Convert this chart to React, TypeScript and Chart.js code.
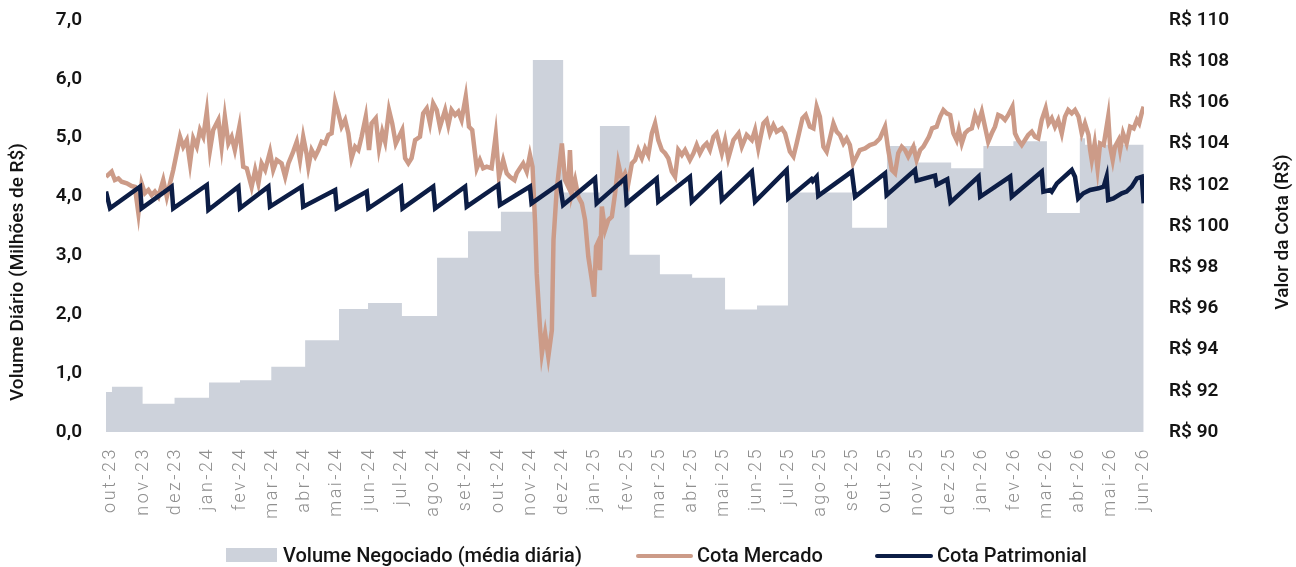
import React, { useEffect, useRef } from 'react';
import { Chart, registerables } from 'chart.js';

Chart.register(...registerables);

// ---------- DATA ----------
const monthLabels = [
  'out-23', 'nov-23', 'dez-23', 'jan-24', 'fev-24', 'mar-24', 'abr-24', 'mai-24', 'jun-24', 'jul-24', 'ago-24',
  'set-24', 'out-24', 'nov-24', 'dez-24', 'jan-25', 'fev-25', 'mar-25', 'abr-25', 'mai-25', 'jun-25', 'jul-25',
  'ago-25', 'set-25', 'out-25', 'nov-25', 'dez-25', 'jan-26', 'fev-26', 'mar-26', 'abr-26', 'mai-26', 'jun-26',
];

// time in months since out-23 (0 = out-23 label)
const volumeT = [
  -0.155, 0.03, 0.98, 1.97, 3.04, 4.0, 4.97, 6.02, 7.07, 7.97, 9.02, 10.11, 11.07, 12.09, 13.08, 14.02, 15.16,
  16.08, 17.02, 18.02, 19.04, 20.03, 20.99, 22.98, 24.06, 24.98, 26.05, 27.05, 27.98, 29.02, 30.04, 30.2, 32.02,
];
const volumeV = [
  0.68, 0.77, 0.48, 0.58, 0.84, 0.88, 1.11, 1.56, 2.09, 2.19, 1.97, 2.96, 3.41, 3.74, 6.32, 4.07, 5.2,
  3.01, 2.68, 2.62, 2.08, 2.15, 4.07, 3.47, 4.86, 4.58, 4.48, 4.86, 4.94, 3.72, 4.99, 4.88, 4.88,
];

const mercadoT = [
  -0.155, 0.02, 0.12, 0.23, 0.33, 0.49, 0.64, 0.74, 0.85, 0.95,
  1.05, 1.16, 1.26, 1.36, 1.47, 1.62, 1.73, 1.83, 1.93, 2.14,
  2.24, 2.35, 2.45, 2.55, 2.66, 2.76, 2.86, 2.97, 3.07, 3.17,
  3.33, 3.43, 3.53, 3.64, 3.74, 3.84, 3.98, 4.10, 4.21, 4.36,
  4.47, 4.57, 4.67, 4.78, 4.93, 5.03, 5.14, 5.29, 5.40, 5.50,
  5.65, 5.76, 5.86, 5.96, 6.07, 6.12, 6.22, 6.33, 6.43, 6.53,
  6.64, 6.74, 6.84, 6.95, 7.05, 7.15, 7.26, 7.36, 7.46, 7.57,
  7.67, 7.77, 7.90, 8.00, 8.08, 8.21, 8.31, 8.41, 8.50, 8.62,
  8.72, 8.83, 8.93, 9.03, 9.12, 9.22, 9.32, 9.43, 9.58, 9.68,
  9.79, 9.89, 9.99, 10.10, 10.20, 10.36, 10.46, 10.56, 10.67, 10.77,
  10.87, 11.00, 11.10, 11.20, 11.34, 11.44, 11.54, 11.65, 11.80, 11.93,
  12.03, 12.16, 12.27, 12.37, 12.51, 12.58, 12.68, 12.78, 12.89, 12.99,
  13.07, 13.15, 13.20, 13.30, 13.36, 13.46, 13.56, 13.67, 13.72, 13.82,
  13.98, 14.08, 14.18, 14.23, 14.29, 14.39, 14.49, 14.60, 14.70, 14.80,
  14.91, 14.98, 15.04, 15.11, 15.16, 15.22, 15.32, 15.42, 15.53, 15.63,
  15.73, 15.84, 15.94, 16.04, 16.15, 16.25, 16.35, 16.46, 16.56, 16.66,
  16.77, 16.87, 16.97, 17.08, 17.18, 17.28, 17.39, 17.49, 17.59, 17.70,
  17.80, 17.95, 18.06, 18.16, 18.26, 18.37, 18.47, 18.57, 18.68, 18.78,
  18.94, 19.04, 19.14, 19.30, 19.46, 19.56, 19.71, 19.87, 19.97, 20.07,
  20.23, 20.33, 20.43, 20.54, 20.64, 20.80, 20.90, 21.05, 21.16, 21.26,
  21.44, 21.54, 21.67, 21.78, 21.88, 21.98, 22.09, 22.19, 22.29, 22.40,
  22.50, 22.60, 22.71, 22.81, 22.91, 23.01, 23.12, 23.22, 23.38, 23.53,
  23.69, 23.84, 24.00, 24.10, 24.21, 24.31, 24.41, 24.52, 24.62, 24.72,
  24.88, 24.98, 25.09, 25.19, 25.36, 25.46, 25.60, 25.71, 25.81, 25.91,
  26.02, 26.12, 26.22, 26.29, 26.38, 26.48, 26.58, 26.69, 26.79, 26.89,
  27.00, 27.10, 27.20, 27.31, 27.41, 27.51, 27.62, 27.72, 27.82, 27.95,
  28.03, 28.13, 28.24, 28.34, 28.44, 28.55, 28.65, 28.75, 28.86, 28.98,
  29.07, 29.17, 29.27, 29.37, 29.48, 29.58, 29.68, 29.79, 29.89, 30.00,
  30.10, 30.20, 30.31, 30.36, 30.41, 30.50, 30.59, 30.67, 30.78, 30.92,
  30.98, 31.06, 31.13, 31.24, 31.29, 31.38, 31.49, 31.60, 31.71, 31.81,
  31.88, 31.97, 32.02,
];
const mercadoV = [
  102.39, 102.64, 102.23, 102.31, 102.15, 102.07, 101.94, 101.90, 100.62, 102.07,
  101.59, 101.75, 101.50, 101.67, 101.42, 102.23, 101.42, 102.07, 102.72, 104.33,
  103.85, 104.17, 103.04, 104.25, 103.85, 104.66, 104.33, 105.55, 103.69, 104.66,
  105.15, 103.85, 105.31, 104.01, 104.33, 103.69, 104.82, 102.88, 102.80, 101.90,
  102.72, 102.07, 103.04, 102.72, 103.61, 102.72, 103.20, 103.04, 102.39, 103.04,
  103.61, 104.09, 103.20, 104.33, 103.45, 102.88, 103.69, 103.37, 103.69, 104.09,
  104.01, 104.42, 104.50, 106.03, 105.47, 104.82, 105.15, 104.50, 103.29, 103.85,
  103.69, 104.33, 105.31, 103.69, 104.98, 105.23, 103.77, 104.58, 104.09, 105.63,
  104.98, 104.00, 104.33, 104.66, 103.29, 103.04, 103.29, 104.17, 104.33, 105.47,
  105.71, 104.98, 105.95, 105.63, 104.82, 105.63, 104.90, 105.63, 105.39, 105.55,
  105.15, 106.28, 104.82, 104.66, 102.80, 103.20, 102.80, 102.88, 102.80, 104.42,
  102.39, 103.20, 102.56, 102.39, 102.23, 102.56, 102.80, 103.04, 102.64, 103.45,
  102.88, 100.13, 97.70, 95.11, 93.82, 94.79, 93.66, 94.95, 99.32, 101.75,
  104.01, 102.23, 101.90, 103.69, 101.59, 102.23, 101.42, 101.10, 100.29, 98.51,
  97.38, 96.57, 99.00, 99.24, 97.86, 100.94, 99.81, 100.29, 100.45, 101.59,
  103.04, 102.23, 102.56, 102.07, 103.04, 103.20, 103.69, 103.29, 103.77, 103.45,
  104.50, 104.98, 104.17, 103.69, 103.53, 103.29, 102.64, 102.39, 103.69, 103.45,
  103.69, 103.20, 103.53, 103.93, 103.53, 103.85, 104.01, 103.69, 104.33, 104.50,
  103.53, 104.17, 103.29, 104.17, 104.50, 103.85, 104.42, 104.17, 104.66, 103.77,
  104.98, 105.15, 104.50, 104.90, 104.58, 104.74, 104.50, 103.61, 103.37, 104.01,
  105.23, 105.39, 104.82, 104.74, 105.79, 105.31, 103.85, 103.61, 104.25, 104.98,
  104.58, 104.42, 104.01, 104.25, 103.93, 103.04, 103.37, 103.69, 103.77, 103.93,
  104.01, 104.25, 104.82, 103.69, 102.72, 102.56, 103.53, 103.85, 103.69, 103.37,
  103.85, 103.20, 103.69, 103.85, 104.33, 104.74, 104.82, 105.31, 105.63, 105.47,
  105.39, 104.50, 104.17, 104.66, 104.01, 104.50, 104.66, 104.74, 105.39, 104.98,
  105.55, 104.82, 104.09, 104.50, 104.82, 105.39, 105.31, 105.15, 105.39, 105.79,
  104.50, 104.17, 103.93, 104.17, 104.42, 104.58, 104.33, 104.25, 105.15, 105.71,
  104.98, 105.23, 104.82, 105.15, 104.50, 105.31, 105.63, 105.47, 105.63, 105.31,
  104.50, 104.98, 104.42, 103.69, 103.20, 104.01, 102.80, 104.01, 103.93, 105.31,
  103.85, 103.20, 103.85, 104.17, 103.69, 104.50, 104.01, 104.82, 104.74, 105.15,
  104.98, 105.55, 105.79,
];

const patrimonialT = [
  -0.155, -0.03, 0.9, 0.95, 1.88, 1.93, 2.97, 3.02, 3.95, 4.0, 4.88, 4.93, 5.91, 5.96, 6.95, 7.0, 7.93, 7.98,
  8.99, 9.04, 9.99, 10.05, 10.98, 11.03, 12.01, 12.06, 12.99, 13.04, 13.92, 14.02, 15.01, 15.06, 15.94, 15.99,
  16.92, 16.97, 17.95, 18.01, 18.88, 18.94, 19.87, 19.97, 20.95, 21.0, 21.72, 21.76, 21.88, 21.93, 22.97, 23.07,
  24.0, 24.05, 24.93, 24.98, 25.55, 25.6, 25.93, 26.03, 26.9, 26.95, 27.88, 27.93, 28.86, 28.91, 29.12, 29.17,
  29.33, 29.79, 29.89, 29.99, 30.15, 30.36, 30.62, 30.78, 30.87, 30.92, 31.08, 31.34, 31.49, 31.65, 31.81,
  31.96, 32.02,
];
const patrimonialV = [
  101.67, 100.86, 101.91, 100.86, 101.91, 100.86, 101.99, 100.78, 101.91, 100.86, 101.91, 100.94, 101.91, 100.94,
  101.75, 100.86, 101.67, 100.86, 101.91, 100.86, 101.91, 100.86, 101.91, 100.94, 101.99, 101.02, 101.91, 101.1,
  102.07, 101.02, 102.31, 101.1, 102.31, 101.1, 102.31, 101.18, 102.39, 101.18, 102.48, 101.26, 102.64, 101.18,
  102.72, 101.34, 102.28, 102.18, 102.39, 101.46, 102.64, 101.42, 102.56, 101.5, 102.72, 102.2, 102.45, 102.0,
  102.27, 101.15, 102.4, 101.42, 102.4, 101.42, 102.64, 101.67, 101.75, 101.67, 102.07, 102.72, 102.39, 101.34,
  101.59, 101.75, 101.83, 101.91, 102.39, 101.26, 101.34, 101.59, 101.67, 101.91, 102.31, 102.39, 101.1,
];

const seriesNames = ['Volume Negociado (média diária)', 'Cota Mercado', 'Cota Patrimonial'];
const leftAxisTitle = 'Volume Diário (Milhões de R$)';
const rightAxisTitle = 'Valor da Cota (R$)';

// ---------- STYLE ----------
const COLOR_VOLUME = '#CDD2DB';
const COLOR_MERCADO = '#CC9B88';
const COLOR_PATRIMONIAL = '#0C1D45';
const COLOR_TEXT = '#141414';
const COLOR_XTICK = '#8F8F8F';
const FONT = 'Roboto, "Noto Sans", sans-serif';

const zip = (t: number[], v: number[]) =>
  t.slice(0, Math.min(t.length, v.length)).map((x, i) => ({ x, y: v[i] }));

const letterSpacingPlugin = {
  id: 'xLabelSpacing',
  beforeDraw(chart: any) {
    chart.ctx.letterSpacing = '2.5px';
  },
  beforeDatasetsDraw(chart: any) {
    chart.ctx.letterSpacing = '0px';
  },
};

const axisTitlePlugin = {
  id: 'axisTitles',
  afterDraw(chart: any) {
    const ctx = chart.ctx;
    const area = chart.chartArea;
    ctx.save();
    ctx.letterSpacing = '0px';
    ctx.font = `500 19px ${FONT}`;
    ctx.fillStyle = COLOR_TEXT;
    ctx.textAlign = 'center';
    ctx.textBaseline = 'middle';
    const midY = (area.top + area.bottom) / 2;
    ctx.save();
    ctx.translate(18, midY + 46);
    ctx.rotate(-Math.PI / 2);
    ctx.fillText(leftAxisTitle, 0, 0);
    ctx.restore();
    ctx.save();
    ctx.translate(chart.width - 13, midY + 6);
    ctx.rotate(-Math.PI / 2);
    ctx.fillText(rightAxisTitle, 0, 0);
    ctx.restore();
    ctx.restore();
  },
};

const noPad = (s: any) => {
  s.paddingTop = 0;
  s.paddingBottom = 0;
  s.paddingLeft = 0;
  s.paddingRight = 0;
};

export default function App() {
  const canvasRef = useRef<HTMLCanvasElement | null>(null);

  useEffect(() => {
    document.body.style.margin = '0';
    const canvas = canvasRef.current;
    if (!canvas) return;
    const chart = new Chart(canvas, {
      type: 'line',
      data: {
        datasets: [
          {
            label: seriesNames[2],
            data: zip(patrimonialT, patrimonialV),
            yAxisID: 'y1',
            borderColor: COLOR_PATRIMONIAL,
            borderWidth: 4.5,
            pointRadius: 0,
            tension: 0,
            fill: false,
            order: 0,
          },
          {
            label: seriesNames[1],
            data: zip(mercadoT, mercadoV),
            yAxisID: 'y1',
            borderColor: COLOR_MERCADO,
            borderWidth: 4.5,
            pointRadius: 0,
            tension: 0,
            fill: false,
            order: 1,
          },
          {
            label: seriesNames[0],
            data: zip(volumeT, volumeV),
            yAxisID: 'y',
            backgroundColor: COLOR_VOLUME,
            borderColor: COLOR_VOLUME,
            borderWidth: 0,
            pointRadius: 0,
            stepped: 'before',
            fill: 'origin',
            order: 2,
          },
        ] as any,
      },
      options: {
        responsive: false,
        animation: false,
        devicePixelRatio: 1,
        layout: { padding: { top: 20, left: 0, right: 0, bottom: 0 } },
        plugins: {
          legend: { display: false },
          tooltip: { enabled: false },
          title: { display: false },
        },
        scales: {
          x: {
            type: 'linear',
            min: -0.155,
            max: 32.03,
            grid: { display: false, drawTicks: false },
            border: { display: false },
            afterBuildTicks: (s: any) => {
              s.ticks = monthLabels.map((_, i) => ({ value: i }));
            },
            afterFit: (s: any) => {
              s.height = 135;
              noPad(s);
            },
            ticks: {
              autoSkip: false,
              maxRotation: 90,
              minRotation: 90,
              padding: 15,
              color: COLOR_XTICK,
              font: { family: FONT, size: 18, weight: '300' },
              callback: (v: any) => monthLabels[Math.round(Number(v))] ?? '',
            },
          },
          y: {
            position: 'left',
            min: 0,
            max: 7,
            grid: { display: false, drawTicks: false },
            border: { display: false },
            afterFit: (s: any) => {
              s.width = 106;
              noPad(s);
            },
            ticks: {
              stepSize: 1,
              padding: 24,
              z: 1,
              color: COLOR_TEXT,
              font: { family: FONT, size: 19, weight: '600' },
              callback: (v: any) => Number(v).toFixed(1).replace('.', ','),
            },
          },
          y1: {
            position: 'right',
            min: 90,
            max: 110,
            grid: { display: false, drawTicks: false },
            border: { display: false },
            afterFit: (s: any) => {
              s.width = 152;
              noPad(s);
            },
            ticks: {
              stepSize: 2,
              padding: 25,
              z: 1,
              color: COLOR_TEXT,
              font: { family: FONT, size: 19, weight: '600' },
              callback: (v: any) => 'R$ ' + v,
            },
          },
        },
      } as any,
      plugins: [letterSpacingPlugin, axisTitlePlugin],
    });
    return () => chart.destroy();
  }, []);

  const legendText: React.CSSProperties = {
    position: 'absolute',
    top: 545,
    fontFamily: FONT,
    fontWeight: 500,
    fontSize: 20,
    lineHeight: '20px',
    color: COLOR_TEXT,
    whiteSpace: 'nowrap',
  };

  return (
    <div style={{ position: 'relative', width: 1296, height: 567, overflow: 'hidden', background: '#ffffff' }}>
      <canvas ref={canvasRef} width={1296} height={567} style={{ position: 'absolute', left: 0, top: 0 }} />
      <div style={{ position: 'absolute', left: 226, top: 548, width: 51, height: 14, background: COLOR_VOLUME }} />
      <span style={{ ...legendText, left: 283 }}>{seriesNames[0]}</span>
      <div style={{ position: 'absolute', left: 636, top: 554, width: 57, height: 4, borderRadius: 2, background: COLOR_MERCADO }} />
      <span style={{ ...legendText, left: 697 }}>{seriesNames[1]}</span>
      <div style={{ position: 'absolute', left: 875, top: 554, width: 58, height: 4, borderRadius: 2, background: COLOR_PATRIMONIAL }} />
      <span style={{ ...legendText, left: 937 }}>{seriesNames[2]}</span>
    </div>
  );
}
